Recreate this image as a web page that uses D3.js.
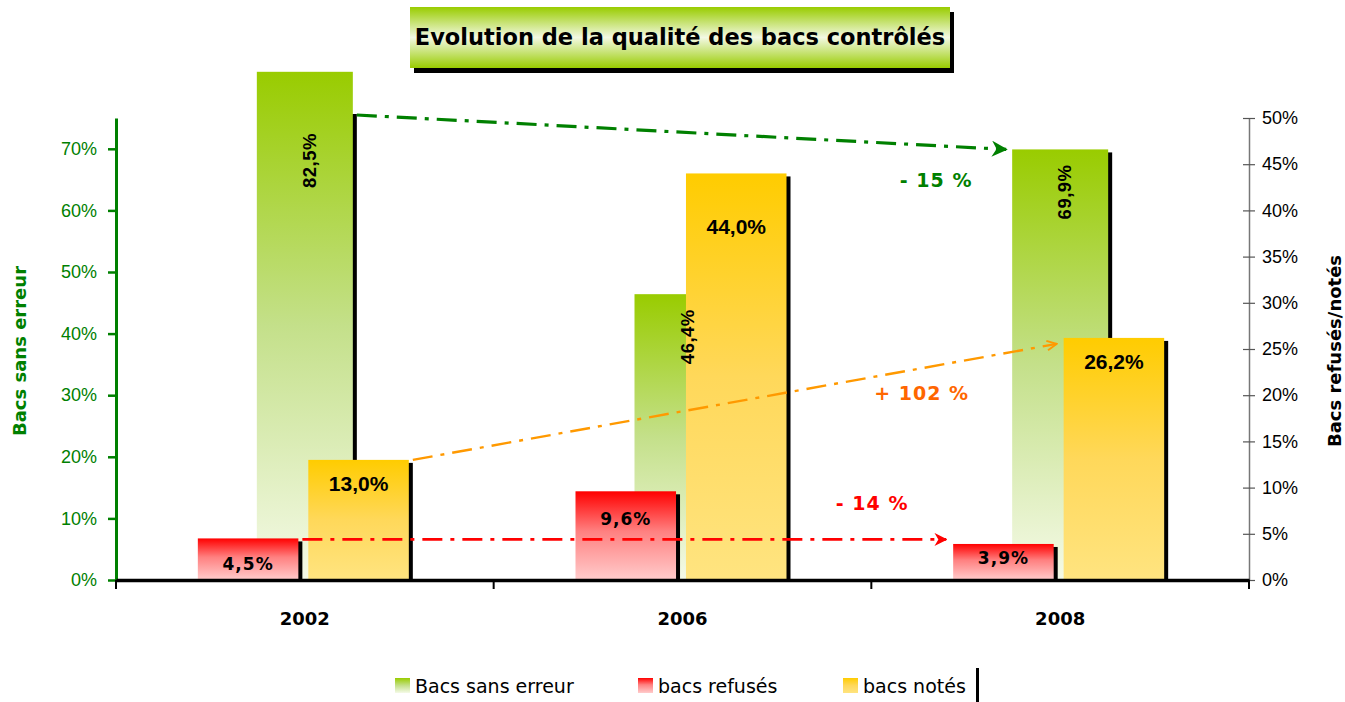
<!DOCTYPE html>
<html>
<head>
	<meta charset="UTF-8">
	<title>Evolution de la qualité des bacs contrôlés</title>
	<script type="text/javascript" src="https://cdn.jsdelivr.net/npm/d3@7"></script>
	<style>
		body { margin: 0; background: #fff; }
		svg { display: block; }
	</style>
</head>
<body>

<script type="text/javascript">
	// data
	var categories = ["2002", "2006", "2008"];
	var sansErreur = [82.5, 46.4, 69.9];
	var refuses = [4.5, 9.6, 3.9];
	var notes = [13.0, 44.0, 26.2];
	var leftTicks = [0, 10, 20, 30, 40, 50, 60, 70];
	var rightTicks = [0, 5, 10, 15, 20, 25, 30, 35, 40, 45, 50];
	var legendLabels = ["Bacs sans erreur", "bacs refusés", "bacs notés"];
	var evolutions = ["- 15 %", "+ 102 %", "- 14 %"];

	var w = 1345;
	var h = 702;

	var plot = { top: 118, bottom: 580, left: 116, right: 1249 };

	var svg = d3.select("body")
		.append("svg")
		.attr("width", w)
		.attr("height", h);

	var defs = svg.append("defs");

	function vGrad(id, stops) {
		var g = defs.append("linearGradient")
			.attr("id", id)
			.attr("x1", 0).attr("y1", 0)
			.attr("x2", 0).attr("y2", 1);
		stops.forEach(function(s){
			g.append("stop").attr("offset", s[0]).attr("stop-color", s[1]);
		});
	}
	vGrad("gGreen", [[0, "#99cc00"], [0.5, "#c4e08a"], [1, "#f5fae8"]]);
	vGrad("gRed", [[0, "#ff0000"], [0.45, "#ff8080"], [1, "#ffcccc"]]);
	vGrad("gYellow", [[0, "#ffcc00"], [0.5, "#ffd85a"], [1, "#ffe480"]]);
	vGrad("gTitle", [[0, "#99cc00"], [0.5, "#f3f9e3"], [1, "#99cc00"]]);

	defs.append("clipPath").attr("id", "plotClip")
		.append("rect")
		.attr("x", 0).attr("y", plot.top - 4)
		.attr("width", w).attr("height", h);

	var x = d3.scaleBand()
		.domain(categories)
		.range([plot.left, plot.right]);

	var sub = d3.scaleBand()
		.domain(["r", "n"])
		.range([-107, 104])
		.paddingInner(0.09);

	var yL = d3.scaleLinear().domain([0, 75]).range([plot.bottom, plot.top]);
	var yR = d3.scaleLinear().domain([0, 50]).range([plot.bottom, plot.top]);

	var fmt = function(d){ return d3.format(".1f")(d).replace(".", ",") + "%"; };
	var greenW = 96;
	var sh = { dx: 4, dy: 3 };

	// ---- title ----
	var title = svg.append("g");
	title.append("rect").attr("x", 414).attr("y", 12).attr("width", 540).attr("height", 61).attr("fill", "#000");
	title.append("rect").attr("x", 410).attr("y", 7).attr("width", 540).attr("height", 61).attr("fill", "url(#gTitle)");
	title.append("text")
		.attr("x", 680).attr("y", 45)
		.attr("text-anchor", "middle")
		.style("font-family", "DejaVu Sans")
		.style("font-weight", "bold")
		.style("font-size", "22.5px")
		.attr("fill", "#000")
		.text("Evolution de la qualité des bacs contrôlés");

	// ---- green bars (left axis) ----
	var gGreen = svg.append("g");
	gGreen.selectAll(".gshadow")
		.data(sansErreur)
		.enter()
		.append("rect")
		.attr("clip-path", "url(#plotClip)")
		.attr("x", function(d, i){ return x(categories[i]) + x.bandwidth()/2 - greenW/2 + sh.dx; })
		.attr("y", function(d){ return yL(d) + sh.dy; })
		.attr("width", greenW)
		.attr("height", function(d){ return plot.bottom - yL(d) - sh.dy; })
		.attr("fill", "#000");
	gGreen.selectAll(".gbar")
		.data(sansErreur)
		.enter()
		.append("rect")
		.attr("x", function(d, i){ return x(categories[i]) + x.bandwidth()/2 - greenW/2; })
		.attr("y", function(d){ return yL(d); })
		.attr("width", greenW)
		.attr("height", function(d){ return plot.bottom - yL(d); })
		.attr("fill", "url(#gGreen)");

	// ---- red / yellow bars (right axis) ----
	var secondary = [
		{ key: "r", values: refuses, fill: "url(#gRed)" },
		{ key: "n", values: notes, fill: "url(#gYellow)" }
	];
	var gSec = svg.append("g");
	secondary.forEach(function(s){
		gSec.selectAll(".shadow-" + s.key)
			.data(s.values)
			.enter()
			.append("rect")
			.attr("x", function(d, i){ return x(categories[i]) + x.bandwidth()/2 + sub(s.key) + sh.dx; })
			.attr("y", function(d){ return yR(d) + sh.dy; })
			.attr("width", sub.bandwidth())
			.attr("height", function(d){ return plot.bottom - yR(d) - sh.dy; })
			.attr("fill", "#000");
	});
	secondary.forEach(function(s){
		gSec.selectAll(".bar-" + s.key)
			.data(s.values)
			.enter()
			.append("rect")
			.attr("x", function(d, i){ return x(categories[i]) + x.bandwidth()/2 + sub(s.key); })
			.attr("y", function(d){ return yR(d); })
			.attr("width", sub.bandwidth())
			.attr("height", function(d){ return plot.bottom - yR(d); })
			.attr("fill", s.fill);
	});

	// ---- bar labels ----
	var labelFont = "Liberation Sans";
	svg.selectAll(".lbl-g")
		.data(sansErreur)
		.enter()
		.append("text")
		.attr("transform", function(d, i){
			var cx = x(categories[i]) + x.bandwidth()/2 + 11;
			var ty = Math.max(yL(d), plot.top) + 15;
			return "translate(" + cx + "," + ty + ") rotate(-90)";
		})
		.attr("text-anchor", "end")
		.style("font-family", labelFont)
		.style("font-weight", "bold")
		.style("font-size", "18.5px")
		.style("letter-spacing", "0.5px")
		.text(fmt);

	// vertical offset of each label centre below the bar top
	var redDy = [25, 27, 13];
	var yellowDy = [24, 54, 24];
	secondary.forEach(function(s){
		var dys = s.key === "r" ? redDy : yellowDy;
		svg.selectAll(".lbl-" + s.key)
			.data(s.values)
			.enter()
			.append("text")
			.attr("x", function(d, i){ return x(categories[i]) + x.bandwidth()/2 + sub(s.key) + sub.bandwidth()/2; })
			.attr("y", function(d, i){ return yR(d) + dys[i] + 7; })
			.attr("text-anchor", "middle")
			.style("font-family", s.key === "r" ? "DejaVu Sans" : labelFont)
			.style("font-weight", "bold")
			.style("font-size", s.key === "r" ? "17px" : "21px")
			.style("letter-spacing", s.key === "r" ? "1px" : "0px")
			.text(fmt);
	});

	// ---- left axis ----
	var axL = svg.append("g")
		.attr("transform", "translate(" + plot.left + ",0)")
		.call(d3.axisLeft(yL).tickValues(leftTicks).tickFormat(function(d){ return d + "%"; }).tickSize(8).tickSizeOuter(0).tickPadding(11));
	axL.select(".domain").attr("stroke", "#008000").attr("stroke-width", 3);
	axL.selectAll(".tick line").attr("stroke", "#008000").attr("stroke-width", 2.5);
	axL.selectAll(".tick text")
		.attr("fill", "#008000")
		.style("font-family", "Liberation Sans")
		.style("font-size", "18px");

	// ---- right axis ----
	var axR = svg.append("g")
		.attr("transform", "translate(" + plot.right + ",0)")
		.call(d3.axisRight(yR).tickValues(rightTicks).tickFormat(function(d){ return d + "%"; }).tickSize(6).tickSizeOuter(0).tickPadding(7));
	axR.select(".domain").attr("stroke", "#777").attr("stroke-width", 1.5);
	axR.selectAll(".tick line").attr("x1", -6).attr("stroke", "#555").attr("stroke-width", 1.2);
	axR.selectAll(".tick text")
		.attr("fill", "#000")
		.style("font-family", "Liberation Sans")
		.style("font-size", "18px");

	// ---- bottom axis ----
	var axB = svg.append("g")
		.attr("transform", "translate(0," + plot.bottom + ")")
		.call(d3.axisBottom(x).tickSize(0).tickPadding(32));
	axB.select(".domain").attr("stroke", "#000").attr("stroke-width", 3.5);
	axB.selectAll(".tick text")
		.style("font-family", "DejaVu Sans")
		.style("font-weight", "bold")
		.style("font-size", "18px")
		.attr("fill", "#000");
	var bounds = categories.map(function(c){ return x(c); }).concat([x(categories[categories.length-1]) + x.bandwidth()]);
	axB.selectAll(".bound")
		.data(bounds)
		.enter()
		.append("line")
		.attr("x1", function(d){ return d; })
		.attr("x2", function(d){ return d; })
		.attr("y1", 0)
		.attr("y2", 9)
		.attr("stroke", "#000")
		.attr("stroke-width", 2);

	// ---- axis titles ----
	svg.append("text")
		.attr("transform", "translate(26,351) rotate(-90)")
		.attr("text-anchor", "middle")
		.attr("fill", "#008000")
		.style("font-family", "DejaVu Sans")
		.style("font-weight", "bold")
		.style("font-size", "18px")
		.text("Bacs sans erreur");
	svg.append("text")
		.attr("transform", "translate(1341,351) rotate(-90)")
		.attr("text-anchor", "middle")
		.attr("fill", "#000")
		.style("font-family", "DejaVu Sans")
		.style("font-weight", "bold")
		.style("font-size", "18px")
		.text("Bacs refusés/notés");

	// ---- evolution arrows ----
	function marker(id, color, open) {
		var m = defs.append("marker")
			.attr("id", id)
			.attr("viewBox", "0 0 10 10")
			.attr("refX", 9).attr("refY", 5)
			.attr("markerWidth", 5).attr("markerHeight", 5)
			.attr("markerUnits", "strokeWidth")
			.attr("orient", "auto");
		if (open) {
			m.append("path").attr("d", "M1,1 L9,5 L1,9").attr("fill", "none").attr("stroke", color).attr("stroke-width", 1.6);
		} else {
			m.append("path").attr("d", "M0,0 L10,5 L0,10 L3,5 Z").attr("fill", color);
		}
	}
	marker("mGreen", "#008000", false);
	marker("mOrange", "#ff9900", true);
	marker("mRed", "#ff0000", false);

	var last = categories.length - 1;
	var c0 = x(categories[0]) + x.bandwidth()/2;
	var cN = x(categories[last]) + x.bandwidth()/2;
	var arrows = [
		{ x1: c0 + greenW/2 + sh.dx, y1: Math.max(yL(sansErreur[0]), plot.top) - 3,
		  x2: cN - greenW/2 - 6, y2: yL(sansErreur[last]), color: "#008000", w: 3.2, m: "mGreen",
		  text: evolutions[0], tc: "#008000", tx: -70, ty: 38 },
		{ x1: c0 + sub("n") + sub.bandwidth() + sh.dx, y1: yR(notes[0]),
		  x2: cN + sub("n") - 7, y2: yR(notes[last]) + 6, color: "#ff9900", w: 2.4, m: "mOrange",
		  text: evolutions[1], tc: "#ff6600", tx: -135, ty: 56 },
		{ x1: c0 + sub("r") + sub.bandwidth() + sh.dx, y1: yR(refuses[0]) + 1,
		  x2: cN + sub("r") - 7, y2: yR(refuses[0]) + 1, color: "#ff0000", w: 2.6, m: "mRed",
		  text: evolutions[2], tc: "#ff0000", tx: -74, ty: -29 }
	];
	var gArr = svg.append("g");
	gArr.selectAll("line")
		.data(arrows)
		.enter()
		.append("line")
		.attr("x1", function(d){ return d.x1; })
		.attr("y1", function(d){ return d.y1; })
		.attr("x2", function(d){ return d.x2; })
		.attr("y2", function(d){ return d.y2; })
		.attr("stroke", function(d){ return d.color; })
		.attr("stroke-width", function(d){ return d.w; })
		.attr("stroke-dasharray", "20,8,4,8")
		.attr("marker-end", function(d){ return "url(#" + d.m + ")"; });
	gArr.selectAll("text")
		.data(arrows)
		.enter()
		.append("text")
		.attr("x", function(d){ return d.x2 + d.tx; })
		.attr("y", function(d){ return d.y2 + d.ty; })
		.attr("text-anchor", "middle")
		.attr("fill", function(d){ return d.tc; })
		.style("font-family", "DejaVu Sans")
		.style("font-weight", "bold")
		.style("font-size", "19px")
		.style("letter-spacing", "1px")
		.text(function(d){ return d.text; });

	// ---- legend ----
	var legendFills = ["url(#gGreen)", "url(#gRed)", "url(#gYellow)"];
	var legendX = [395, 638, 843];
	var lg = svg.append("g");
	var items = lg.selectAll(".item")
		.data(legendLabels)
		.enter()
		.append("g")
		.attr("transform", function(d, i){ return "translate(" + legendX[i] + ",678)"; });
	items.append("rect")
		.attr("width", 15).attr("height", 15)
		.attr("fill", function(d, i){ return legendFills[i]; });
	items.append("text")
		.attr("x", 20).attr("y", 15)
		.style("font-family", "DejaVu Sans")
		.style("font-size", "19px")
		.attr("fill", "#000")
		.text(function(d){ return d; });
	lg.append("rect").attr("x", 976).attr("y", 668).attr("width", 3).attr("height", 34).attr("fill", "#000");
</script>

</body>
</html>
